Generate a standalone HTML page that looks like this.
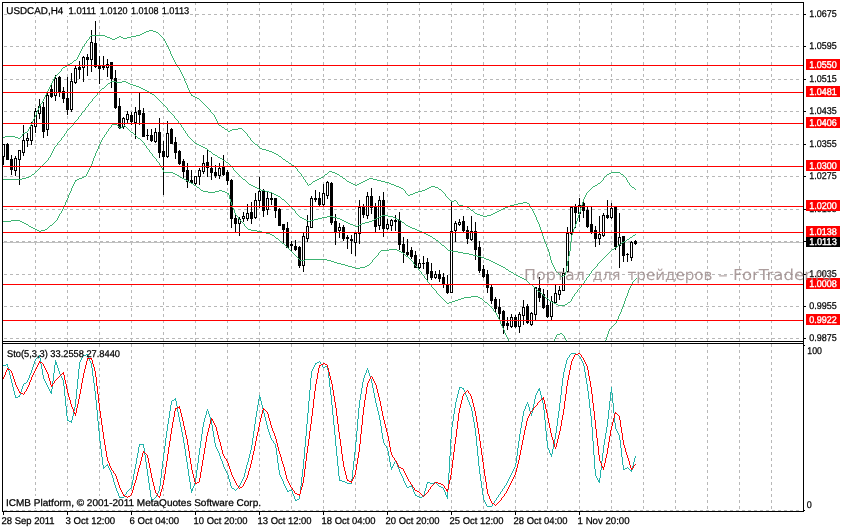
<!DOCTYPE html>
<html lang="ru"><head><meta charset="utf-8"><title>USDCAD,H4</title>
<style>html,body{margin:0;padding:0;background:#fff;overflow:hidden}svg{display:block}text{font-family:"Liberation Sans",sans-serif;font-size:9.8px;text-rendering:geometricPrecision;fill:#000;stroke:#000;stroke-width:.25px}.wm{font-family:"DejaVu Sans","Liberation Sans",sans-serif;font-size:15px;fill:#9a8888;fill-opacity:.82;stroke:none}.w{fill:#fff;stroke:#fff;stroke-width:.4px}</style></head><body>
<svg width="841" height="528" viewBox="0 0 841 528">
<rect width="841" height="528" fill="#fff"/>
<g stroke="#b8b8b8" stroke-width="1" stroke-dasharray="3 3" shape-rendering="crispEdges" fill="none">
<line x1="4" y1="14.5" x2="801" y2="14.5"/>
<line x1="4" y1="46.5" x2="801" y2="46.5"/>
<line x1="4" y1="79.5" x2="801" y2="79.5"/>
<line x1="4" y1="111.5" x2="801" y2="111.5"/>
<line x1="4" y1="144.5" x2="801" y2="144.5"/>
<line x1="4" y1="176.5" x2="801" y2="176.5"/>
<line x1="4" y1="209.5" x2="801" y2="209.5"/>
<line x1="4" y1="241.5" x2="801" y2="241.5"/>
<line x1="4" y1="274.5" x2="801" y2="274.5"/>
<line x1="4" y1="306.5" x2="801" y2="306.5"/>
<line x1="4" y1="338.5" x2="801" y2="338.5"/>
<line x1="4" y1="510.5" x2="801" y2="510.5"/>
<line x1="35.5" y1="2" x2="35.5" y2="511"/>
<line x1="67.5" y1="2" x2="67.5" y2="511"/>
<line x1="99.5" y1="2" x2="99.5" y2="511"/>
<line x1="131.5" y1="2" x2="131.5" y2="511"/>
<line x1="163.5" y1="2" x2="163.5" y2="511"/>
<line x1="195.5" y1="2" x2="195.5" y2="511"/>
<line x1="227.5" y1="2" x2="227.5" y2="511"/>
<line x1="259.5" y1="2" x2="259.5" y2="511"/>
<line x1="291.5" y1="2" x2="291.5" y2="511"/>
<line x1="323.5" y1="2" x2="323.5" y2="511"/>
<line x1="355.5" y1="2" x2="355.5" y2="511"/>
<line x1="387.5" y1="2" x2="387.5" y2="511"/>
<line x1="419.5" y1="2" x2="419.5" y2="511"/>
<line x1="451.5" y1="2" x2="451.5" y2="511"/>
<line x1="483.5" y1="2" x2="483.5" y2="511"/>
<line x1="515.5" y1="2" x2="515.5" y2="511"/>
<line x1="547.5" y1="2" x2="547.5" y2="511"/>
<line x1="579.5" y1="2" x2="579.5" y2="511"/>
<line x1="611.5" y1="2" x2="611.5" y2="511"/>
<line x1="643.5" y1="2" x2="643.5" y2="511"/>
<line x1="675.5" y1="2" x2="675.5" y2="511"/>
<line x1="707.5" y1="2" x2="707.5" y2="511"/>
<line x1="739.5" y1="2" x2="739.5" y2="511"/>
<line x1="771.5" y1="2" x2="771.5" y2="511"/>
<line x1="803.5" y1="2" x2="803.5" y2="511"/>
</g>
<rect x="7" y="4" width="183" height="12" fill="#fff"/>
<rect x="7" y="347" width="113" height="12" fill="#fff"/>
<rect x="5" y="496" width="256" height="12" fill="#fff"/>
<line x1="3" y1="242.5" x2="803" y2="242.5" stroke="#c0c0c0" shape-rendering="crispEdges"/>
<g shape-rendering="crispEdges">
<g stroke="#000" stroke-width="1">
<line x1="3.5" y1="144" x2="3.5" y2="165"/>
<rect x="2.5" y="144.5" width="2" height="12" fill="#fff"/>
<line x1="7.5" y1="143" x2="7.5" y2="160"/>
<rect x="6.5" y="144.5" width="2" height="15" fill="#000"/>
<line x1="11.5" y1="155" x2="11.5" y2="175"/>
<rect x="10.5" y="159.5" width="2" height="10" fill="#000"/>
<line x1="15.5" y1="156" x2="15.5" y2="176"/>
<rect x="14.5" y="158.5" width="2" height="12" fill="#fff"/>
<line x1="19.5" y1="150" x2="19.5" y2="185"/>
<rect x="18.5" y="150.5" width="2" height="9" fill="#fff"/>
<line x1="23.5" y1="125" x2="23.5" y2="156"/>
<rect x="22.5" y="140.5" width="2" height="12" fill="#fff"/>
<line x1="27.5" y1="133" x2="27.5" y2="147"/>
<rect x="26.5" y="138.5" width="2" height="2" fill="#fff"/>
<line x1="31.5" y1="122" x2="31.5" y2="145"/>
<rect x="30.5" y="125.5" width="2" height="15" fill="#fff"/>
<line x1="35.5" y1="108" x2="35.5" y2="133"/>
<rect x="34.5" y="111.5" width="2" height="15" fill="#fff"/>
<line x1="39.5" y1="99" x2="39.5" y2="119"/>
<rect x="38.5" y="106.5" width="2" height="7" fill="#fff"/>
<line x1="43.5" y1="102" x2="43.5" y2="138"/>
<rect x="42.5" y="107.5" width="2" height="24" fill="#000"/>
<line x1="47.5" y1="93" x2="47.5" y2="136"/>
<rect x="46.5" y="95.5" width="2" height="34" fill="#fff"/>
<line x1="51.5" y1="85" x2="51.5" y2="98"/>
<rect x="50.5" y="89.5" width="2" height="7" fill="#000"/>
<line x1="55.5" y1="75" x2="55.5" y2="101"/>
<rect x="54.5" y="78.5" width="2" height="17" fill="#fff"/>
<line x1="59.5" y1="76" x2="59.5" y2="97"/>
<rect x="58.5" y="77.5" width="2" height="15" fill="#000"/>
<line x1="63.5" y1="87" x2="63.5" y2="103"/>
<rect x="62.5" y="91.5" width="2" height="7" fill="#000"/>
<line x1="67.5" y1="77" x2="67.5" y2="115"/>
<rect x="66.5" y="98.5" width="2" height="11" fill="#000"/>
<line x1="71.5" y1="73" x2="71.5" y2="112"/>
<rect x="70.5" y="81.5" width="2" height="28" fill="#fff"/>
<line x1="75.5" y1="66" x2="75.5" y2="84"/>
<rect x="74.5" y="68.5" width="2" height="14" fill="#fff"/>
<line x1="79.5" y1="61" x2="79.5" y2="79"/>
<rect x="78.5" y="67.5" width="2" height="2" fill="#000"/>
<line x1="83.5" y1="56" x2="83.5" y2="82"/>
<rect x="82.5" y="57.5" width="2" height="10" fill="#fff"/>
<line x1="87.5" y1="54" x2="87.5" y2="76"/>
<rect x="86.5" y="57.5" width="2" height="2" fill="#000"/>
<line x1="91.5" y1="30" x2="91.5" y2="72"/>
<rect x="90.5" y="42.5" width="2" height="17" fill="#fff"/>
<line x1="95.5" y1="21" x2="95.5" y2="68"/>
<rect x="94.5" y="43.5" width="2" height="23" fill="#000"/>
<line x1="99.5" y1="56" x2="99.5" y2="84"/>
<rect x="98.5" y="66.5" width="2" height="2" fill="#000"/>
<line x1="103.5" y1="56" x2="103.5" y2="70"/>
<rect x="102.5" y="65.5" width="2" height="2" fill="#000"/>
<line x1="107.5" y1="59" x2="107.5" y2="77"/>
<rect x="106.5" y="64.5" width="2" height="3" fill="#fff"/>
<line x1="111.5" y1="62" x2="111.5" y2="88"/>
<rect x="110.5" y="62.5" width="2" height="16" fill="#000"/>
<line x1="115.5" y1="70" x2="115.5" y2="109"/>
<rect x="114.5" y="78.5" width="2" height="29" fill="#000"/>
<line x1="119.5" y1="98" x2="119.5" y2="129"/>
<rect x="118.5" y="106.5" width="2" height="21" fill="#000"/>
<line x1="123.5" y1="117" x2="123.5" y2="129"/>
<rect x="122.5" y="118.5" width="2" height="8" fill="#fff"/>
<line x1="127.5" y1="111" x2="127.5" y2="124"/>
<rect x="126.5" y="114.5" width="2" height="5" fill="#fff"/>
<line x1="131.5" y1="112" x2="131.5" y2="125"/>
<rect x="130.5" y="115.5" width="2" height="6" fill="#000"/>
<line x1="135.5" y1="107" x2="135.5" y2="139"/>
<rect x="134.5" y="112.5" width="2" height="10" fill="#fff"/>
<line x1="139.5" y1="93" x2="139.5" y2="125"/>
<rect x="138.5" y="110.5" width="2" height="4" fill="#000"/>
<line x1="143.5" y1="108" x2="143.5" y2="137"/>
<rect x="142.5" y="113.5" width="2" height="23" fill="#000"/>
<line x1="147.5" y1="129" x2="147.5" y2="140"/>
<line x1="146" y1="135.5" x2="149" y2="135.5"/>
<line x1="151.5" y1="129" x2="151.5" y2="142"/>
<rect x="150.5" y="135.5" width="2" height="5" fill="#000"/>
<line x1="155.5" y1="128" x2="155.5" y2="143"/>
<rect x="154.5" y="132.5" width="2" height="9" fill="#fff"/>
<line x1="159.5" y1="118" x2="159.5" y2="158"/>
<rect x="158.5" y="132.5" width="2" height="20" fill="#000"/>
<line x1="163.5" y1="141" x2="163.5" y2="195"/>
<rect x="162.5" y="151.5" width="2" height="5" fill="#000"/>
<line x1="167.5" y1="121" x2="167.5" y2="158"/>
<rect x="166.5" y="133.5" width="2" height="23" fill="#fff"/>
<line x1="171.5" y1="128" x2="171.5" y2="144"/>
<rect x="170.5" y="129.5" width="2" height="14" fill="#000"/>
<line x1="175.5" y1="137" x2="175.5" y2="159"/>
<rect x="174.5" y="142.5" width="2" height="10" fill="#000"/>
<line x1="179.5" y1="150" x2="179.5" y2="165"/>
<rect x="178.5" y="151.5" width="2" height="12" fill="#000"/>
<line x1="183.5" y1="159" x2="183.5" y2="179"/>
<rect x="182.5" y="161.5" width="2" height="10" fill="#000"/>
<line x1="187.5" y1="163" x2="187.5" y2="188"/>
<rect x="186.5" y="170.5" width="2" height="11" fill="#000"/>
<line x1="191.5" y1="170" x2="191.5" y2="184"/>
<rect x="190.5" y="180.5" width="2" height="2" fill="#000"/>
<line x1="195.5" y1="176" x2="195.5" y2="186"/>
<rect x="194.5" y="176.5" width="2" height="7" fill="#fff"/>
<line x1="199.5" y1="168" x2="199.5" y2="185"/>
<rect x="198.5" y="170.5" width="2" height="6" fill="#fff"/>
<line x1="203.5" y1="155" x2="203.5" y2="174"/>
<rect x="202.5" y="163.5" width="2" height="8" fill="#fff"/>
<line x1="207.5" y1="150" x2="207.5" y2="177"/>
<rect x="206.5" y="162.5" width="2" height="5" fill="#000"/>
<line x1="211.5" y1="157" x2="211.5" y2="180"/>
<rect x="210.5" y="168.5" width="2" height="4" fill="#000"/>
<line x1="215.5" y1="165" x2="215.5" y2="178"/>
<rect x="214.5" y="172.5" width="2" height="3" fill="#000"/>
<line x1="219.5" y1="163" x2="219.5" y2="179"/>
<rect x="218.5" y="168.5" width="2" height="7" fill="#fff"/>
<line x1="223.5" y1="155" x2="223.5" y2="176"/>
<rect x="222.5" y="167.5" width="2" height="7" fill="#000"/>
<line x1="227.5" y1="170" x2="227.5" y2="185"/>
<rect x="226.5" y="172.5" width="2" height="8" fill="#000"/>
<line x1="231.5" y1="179" x2="231.5" y2="228"/>
<rect x="230.5" y="180.5" width="2" height="38" fill="#000"/>
<line x1="235.5" y1="214" x2="235.5" y2="232"/>
<rect x="234.5" y="218.5" width="2" height="5" fill="#000"/>
<line x1="239.5" y1="217" x2="239.5" y2="236"/>
<rect x="238.5" y="219.5" width="2" height="4" fill="#fff"/>
<line x1="243.5" y1="212" x2="243.5" y2="222"/>
<rect x="242.5" y="216.5" width="2" height="2" fill="#fff"/>
<line x1="247.5" y1="204" x2="247.5" y2="221"/>
<rect x="246.5" y="213.5" width="2" height="5" fill="#fff"/>
<line x1="251.5" y1="202" x2="251.5" y2="224"/>
<rect x="250.5" y="212.5" width="2" height="6" fill="#000"/>
<line x1="255.5" y1="193" x2="255.5" y2="219"/>
<rect x="254.5" y="200.5" width="2" height="17" fill="#fff"/>
<line x1="259.5" y1="177" x2="259.5" y2="208"/>
<rect x="258.5" y="191.5" width="2" height="9" fill="#fff"/>
<line x1="263.5" y1="189" x2="263.5" y2="217"/>
<rect x="262.5" y="190.5" width="2" height="20" fill="#000"/>
<line x1="267.5" y1="192" x2="267.5" y2="215"/>
<rect x="266.5" y="198.5" width="2" height="11" fill="#fff"/>
<line x1="271.5" y1="193" x2="271.5" y2="205"/>
<rect x="270.5" y="198.5" width="2" height="1" fill="#000"/>
<line x1="275.5" y1="198" x2="275.5" y2="218"/>
<rect x="274.5" y="198.5" width="2" height="12" fill="#000"/>
<line x1="279.5" y1="208" x2="279.5" y2="226"/>
<rect x="278.5" y="209.5" width="2" height="16" fill="#000"/>
<line x1="283.5" y1="224" x2="283.5" y2="244"/>
<rect x="282.5" y="224.5" width="2" height="5" fill="#000"/>
<line x1="287.5" y1="222" x2="287.5" y2="248"/>
<rect x="286.5" y="228.5" width="2" height="19" fill="#000"/>
<line x1="291.5" y1="241" x2="291.5" y2="252"/>
<rect x="290.5" y="244.5" width="2" height="1" fill="#000"/>
<line x1="295.5" y1="240" x2="295.5" y2="251"/>
<rect x="294.5" y="246.5" width="2" height="3" fill="#000"/>
<line x1="299.5" y1="246" x2="299.5" y2="268"/>
<rect x="298.5" y="247.5" width="2" height="18" fill="#000"/>
<line x1="303.5" y1="233" x2="303.5" y2="272"/>
<rect x="302.5" y="236.5" width="2" height="29" fill="#fff"/>
<line x1="307.5" y1="215" x2="307.5" y2="242"/>
<rect x="306.5" y="226.5" width="2" height="12" fill="#fff"/>
<line x1="311.5" y1="196" x2="311.5" y2="228"/>
<rect x="310.5" y="198.5" width="2" height="29" fill="#fff"/>
<line x1="315.5" y1="190" x2="315.5" y2="202"/>
<rect x="314.5" y="198.5" width="2" height="1" fill="#000"/>
<line x1="319.5" y1="192" x2="319.5" y2="206"/>
<rect x="318.5" y="198.5" width="2" height="6" fill="#000"/>
<line x1="323.5" y1="184" x2="323.5" y2="206"/>
<rect x="322.5" y="193.5" width="2" height="11" fill="#fff"/>
<line x1="327.5" y1="181" x2="327.5" y2="199"/>
<rect x="326.5" y="182.5" width="2" height="13" fill="#fff"/>
<line x1="331.5" y1="182" x2="331.5" y2="225"/>
<rect x="330.5" y="183.5" width="2" height="39" fill="#000"/>
<line x1="335.5" y1="214" x2="335.5" y2="245"/>
<rect x="334.5" y="221.5" width="2" height="10" fill="#000"/>
<line x1="339.5" y1="223" x2="339.5" y2="238"/>
<rect x="338.5" y="227.5" width="2" height="3" fill="#fff"/>
<line x1="343.5" y1="225" x2="343.5" y2="241"/>
<rect x="342.5" y="227.5" width="2" height="11" fill="#000"/>
<line x1="347.5" y1="235" x2="347.5" y2="249"/>
<rect x="346.5" y="237.5" width="2" height="1" fill="#000"/>
<line x1="351.5" y1="235" x2="351.5" y2="254"/>
<rect x="350.5" y="239.5" width="2" height="1" fill="#000"/>
<line x1="355.5" y1="232" x2="355.5" y2="256"/>
<rect x="354.5" y="233.5" width="2" height="9" fill="#fff"/>
<line x1="359.5" y1="200" x2="359.5" y2="244"/>
<rect x="358.5" y="207.5" width="2" height="26" fill="#fff"/>
<line x1="363.5" y1="204" x2="363.5" y2="218"/>
<rect x="362.5" y="206.5" width="2" height="8" fill="#000"/>
<line x1="367.5" y1="192" x2="367.5" y2="219"/>
<rect x="366.5" y="196.5" width="2" height="19" fill="#fff"/>
<line x1="371.5" y1="188" x2="371.5" y2="214"/>
<rect x="370.5" y="196.5" width="2" height="11" fill="#000"/>
<line x1="375.5" y1="203" x2="375.5" y2="233"/>
<rect x="374.5" y="206.5" width="2" height="20" fill="#000"/>
<line x1="379.5" y1="196" x2="379.5" y2="230"/>
<rect x="378.5" y="200.5" width="2" height="25" fill="#fff"/>
<line x1="383.5" y1="192" x2="383.5" y2="237"/>
<rect x="382.5" y="200.5" width="2" height="28" fill="#000"/>
<line x1="387.5" y1="219" x2="387.5" y2="230"/>
<rect x="386.5" y="224.5" width="2" height="4" fill="#fff"/>
<line x1="391.5" y1="219" x2="391.5" y2="231"/>
<rect x="390.5" y="220.5" width="2" height="5" fill="#fff"/>
<line x1="395.5" y1="215" x2="395.5" y2="231"/>
<rect x="394.5" y="220.5" width="2" height="1" fill="#000"/>
<line x1="399.5" y1="212" x2="399.5" y2="250"/>
<rect x="398.5" y="220.5" width="2" height="24" fill="#000"/>
<line x1="403.5" y1="237" x2="403.5" y2="263"/>
<rect x="402.5" y="244.5" width="2" height="8" fill="#000"/>
<line x1="407.5" y1="239" x2="407.5" y2="256"/>
<rect x="406.5" y="252.5" width="2" height="2" fill="#000"/>
<line x1="411.5" y1="247" x2="411.5" y2="259"/>
<rect x="410.5" y="250.5" width="2" height="6" fill="#000"/>
<line x1="415.5" y1="251" x2="415.5" y2="268"/>
<rect x="414.5" y="255.5" width="2" height="12" fill="#000"/>
<line x1="419.5" y1="259" x2="419.5" y2="269"/>
<rect x="418.5" y="263.5" width="2" height="4" fill="#fff"/>
<line x1="423.5" y1="256" x2="423.5" y2="269"/>
<line x1="422" y1="263.5" x2="425" y2="263.5"/>
<line x1="427.5" y1="258" x2="427.5" y2="281"/>
<rect x="426.5" y="262.5" width="2" height="11" fill="#000"/>
<line x1="431.5" y1="263" x2="431.5" y2="280"/>
<rect x="430.5" y="271.5" width="2" height="6" fill="#000"/>
<line x1="435.5" y1="271" x2="435.5" y2="279"/>
<rect x="434.5" y="274.5" width="2" height="3" fill="#fff"/>
<line x1="439.5" y1="270" x2="439.5" y2="282"/>
<rect x="438.5" y="274.5" width="2" height="4" fill="#000"/>
<line x1="443.5" y1="273" x2="443.5" y2="288"/>
<rect x="442.5" y="277.5" width="2" height="7" fill="#000"/>
<line x1="447.5" y1="275" x2="447.5" y2="294"/>
<rect x="446.5" y="284.5" width="2" height="8" fill="#000"/>
<line x1="451.5" y1="201" x2="451.5" y2="293"/>
<rect x="450.5" y="231.5" width="2" height="61" fill="#fff"/>
<line x1="455.5" y1="221" x2="455.5" y2="242"/>
<rect x="454.5" y="223.5" width="2" height="7" fill="#fff"/>
<line x1="459.5" y1="219" x2="459.5" y2="226"/>
<rect x="458.5" y="222.5" width="2" height="2" fill="#fff"/>
<line x1="463.5" y1="216" x2="463.5" y2="232"/>
<rect x="462.5" y="221.5" width="2" height="9" fill="#000"/>
<line x1="467.5" y1="226" x2="467.5" y2="244"/>
<rect x="466.5" y="230.5" width="2" height="8" fill="#000"/>
<line x1="471.5" y1="216" x2="471.5" y2="241"/>
<rect x="470.5" y="231.5" width="2" height="8" fill="#fff"/>
<line x1="475.5" y1="222" x2="475.5" y2="260"/>
<rect x="474.5" y="231.5" width="2" height="18" fill="#000"/>
<line x1="479.5" y1="241" x2="479.5" y2="273"/>
<rect x="478.5" y="247.5" width="2" height="23" fill="#000"/>
<line x1="483.5" y1="265" x2="483.5" y2="278"/>
<rect x="482.5" y="269.5" width="2" height="7" fill="#000"/>
<line x1="487.5" y1="270" x2="487.5" y2="293"/>
<rect x="486.5" y="274.5" width="2" height="13" fill="#000"/>
<line x1="491.5" y1="285" x2="491.5" y2="304"/>
<rect x="490.5" y="287.5" width="2" height="13" fill="#000"/>
<line x1="495.5" y1="297" x2="495.5" y2="313"/>
<rect x="494.5" y="299.5" width="2" height="9" fill="#000"/>
<line x1="499.5" y1="299" x2="499.5" y2="321"/>
<rect x="498.5" y="307.5" width="2" height="6" fill="#000"/>
<line x1="503.5" y1="310" x2="503.5" y2="334"/>
<rect x="502.5" y="311.5" width="2" height="14" fill="#000"/>
<line x1="507.5" y1="317" x2="507.5" y2="330"/>
<rect x="506.5" y="323.5" width="2" height="2" fill="#000"/>
<line x1="511.5" y1="314" x2="511.5" y2="328"/>
<rect x="510.5" y="317.5" width="2" height="9" fill="#fff"/>
<line x1="515.5" y1="315" x2="515.5" y2="328"/>
<rect x="514.5" y="317.5" width="2" height="9" fill="#000"/>
<line x1="519.5" y1="312" x2="519.5" y2="333"/>
<rect x="518.5" y="314.5" width="2" height="12" fill="#fff"/>
<line x1="523.5" y1="300" x2="523.5" y2="325"/>
<rect x="522.5" y="307.5" width="2" height="8" fill="#fff"/>
<line x1="527.5" y1="304" x2="527.5" y2="324"/>
<rect x="526.5" y="306.5" width="2" height="16" fill="#000"/>
<line x1="531.5" y1="312" x2="531.5" y2="326"/>
<rect x="530.5" y="313.5" width="2" height="11" fill="#fff"/>
<line x1="535.5" y1="287" x2="535.5" y2="321"/>
<rect x="534.5" y="287.5" width="2" height="27" fill="#fff"/>
<line x1="539.5" y1="277" x2="539.5" y2="302"/>
<rect x="538.5" y="288.5" width="2" height="9" fill="#000"/>
<line x1="543.5" y1="289" x2="543.5" y2="309"/>
<rect x="542.5" y="294.5" width="2" height="13" fill="#000"/>
<line x1="547.5" y1="290" x2="547.5" y2="318"/>
<rect x="546.5" y="305.5" width="2" height="11" fill="#000"/>
<line x1="551.5" y1="296" x2="551.5" y2="321"/>
<rect x="550.5" y="301.5" width="2" height="15" fill="#fff"/>
<line x1="555.5" y1="285" x2="555.5" y2="304"/>
<rect x="554.5" y="293.5" width="2" height="9" fill="#fff"/>
<line x1="559.5" y1="286" x2="559.5" y2="300"/>
<rect x="558.5" y="290.5" width="2" height="4" fill="#fff"/>
<line x1="563.5" y1="268" x2="563.5" y2="291"/>
<rect x="562.5" y="273.5" width="2" height="17" fill="#fff"/>
<line x1="567.5" y1="227" x2="567.5" y2="273"/>
<rect x="566.5" y="233.5" width="2" height="38" fill="#fff"/>
<line x1="571.5" y1="207" x2="571.5" y2="237"/>
<rect x="570.5" y="207.5" width="2" height="26" fill="#fff"/>
<line x1="575.5" y1="204" x2="575.5" y2="228"/>
<rect x="574.5" y="207.5" width="2" height="5" fill="#000"/>
<line x1="579.5" y1="198" x2="579.5" y2="222"/>
<rect x="578.5" y="205.5" width="2" height="8" fill="#fff"/>
<line x1="583.5" y1="199" x2="583.5" y2="218"/>
<rect x="582.5" y="203.5" width="2" height="7" fill="#000"/>
<line x1="587.5" y1="207" x2="587.5" y2="228"/>
<rect x="586.5" y="210.5" width="2" height="16" fill="#000"/>
<line x1="591.5" y1="207" x2="591.5" y2="234"/>
<rect x="590.5" y="224.5" width="2" height="7" fill="#000"/>
<line x1="595.5" y1="226" x2="595.5" y2="247"/>
<rect x="594.5" y="230.5" width="2" height="8" fill="#000"/>
<line x1="599.5" y1="216" x2="599.5" y2="245"/>
<rect x="598.5" y="234.5" width="2" height="4" fill="#fff"/>
<line x1="603.5" y1="213" x2="603.5" y2="237"/>
<rect x="602.5" y="215.5" width="2" height="20" fill="#fff"/>
<line x1="607.5" y1="200" x2="607.5" y2="219"/>
<rect x="606.5" y="215.5" width="2" height="2" fill="#000"/>
<line x1="611.5" y1="203" x2="611.5" y2="219"/>
<rect x="610.5" y="208.5" width="2" height="9" fill="#fff"/>
<line x1="615.5" y1="207" x2="615.5" y2="250"/>
<rect x="614.5" y="207.5" width="2" height="39" fill="#000"/>
<line x1="619.5" y1="213" x2="619.5" y2="268"/>
<rect x="618.5" y="237.5" width="2" height="8" fill="#fff"/>
<line x1="623.5" y1="236" x2="623.5" y2="262"/>
<rect x="622.5" y="236.5" width="2" height="19" fill="#000"/>
<line x1="627.5" y1="253" x2="627.5" y2="262"/>
<line x1="626" y1="254.5" x2="629" y2="254.5"/>
<line x1="631.5" y1="241" x2="631.5" y2="261"/>
<rect x="630.5" y="242.5" width="2" height="15" fill="#fff"/>
<line x1="635.5" y1="240" x2="635.5" y2="245"/>
<rect x="634.5" y="241.5" width="2" height="2" fill="#000"/>
</g>
<path d="M303.5 177v2M173.5 58v2M35.5 115v2M533.5 211v2M82.5 47v2M544.5 239v3M534.5 213v2M187.5 85v3M188.5 88v2M530.5 206v2M570.5 242v9M457.5 202v2M583.5 199v3M540.5 227v3M626.5 178v2M548.5 249v3M629.5 183v2M50.5 85v2M179.5 68v2M250.5 138v2M566.5 266v6M180.5 70v2M30.5 125v2M582.5 202v3M529.5 204v2M172.5 56v2M190.5 92v2M532.5 209v2M46.5 93v2M22.5 134v2M81.5 49v2M54.5 77v2M569.5 251v5M305.5 180v2M550.5 256v4M37.5 110v2M77.5 57v2M543.5 236v3M565.5 272v3M169.5 49v2M34.5 117v2M49.5 87v2M586.5 193v2M539.5 224v3M578.5 215v3M301.5 174v2M45.5 95v2M535.5 215v2M80.5 51v2M577.5 218v3M568.5 256v5M168.5 47v2M29.5 127v2M186.5 83v2M445.5 194v2M581.5 205v3M627.5 180v2M44.5 97v2M549.5 252v4M61.5 69v2M40.5 104v2M171.5 54v2M53.5 79v2M33.5 119v2M542.5 233v3M573.5 229v3M36.5 112v3M185.5 81v2M84.5 44v2M546.5 244v3M210.5 110v2M218.5 123v2M307.5 183v2M48.5 89v2M28.5 129v2M170.5 51v3M567.5 261v5M585.5 195v2M576.5 221v3M164.5 39v2M297.5 169v2M580.5 208v4M52.5 81v2M538.5 222v2M551.5 260v3M571.5 235v7M43.5 99v2M575.5 224v3M167.5 45v2M39.5 106v2M405.5 191v2M184.5 78v3M32.5 121v2M572.5 232v3M79.5 53v2M47.5 91v2M217.5 121v2M537.5 220v2M214.5 115v2M579.5 212v3M541.5 230v3M166.5 43v2M547.5 247v2M555.5 269v2M603.5 178v2M181.5 72v2M86.5 41v2M191.5 94v2M89.5 37v2M51.5 83v2M78.5 55v2M165.5 41v2M574.5 227v2M554.5 267v2M216.5 119v2M247.5 134v2M42.5 101v2M536.5 217v3M38.5 108v2M183.5 76v2M215.5 117v2M553.5 265v2M182.5 74v2M175.5 62v2M189.5 90v2M552.5 263v2M545.5 242v2M584.5 197v2M174.5 60v2M177.5 65v2M31.5 123v2M221 126.5h1M319 178.5h2M343 178.5h2M369 178.5h4M315 180.5h2M346 180.5h1M365 180.5h2M377 180.5h4M602 180.5h1M408 195.5h2M325 174.5h2M337 174.5h2M607 174.5h2M621 174.5h2M518 203.5h5M527 203.5h2M3 137.5h2M15 137.5h3M20 137.5h1M249 137.5h1M459 205.5h4M510 205.5h4M304 179.5h1M317 179.5h2M345 179.5h1M367 179.5h2M373 179.5h4M415 192.5h3M443 192.5h1M587 192.5h1M110 38.5h2M115 38.5h2M123 38.5h4M163 38.5h1M142 33.5h2M158 33.5h1M298 171.5h1M329 171.5h3M418 191.5h4M442 191.5h1M588 191.5h1M90 36.5h1M105 36.5h2M119 36.5h2M131 36.5h5M161 36.5h1M474 212.5h1M495 212.5h2M18 138.5h2M140 34.5h2M159 34.5h1M107 37.5h3M117 37.5h2M121 37.5h2M127 37.5h4M162 37.5h1M321 177.5h2M342 177.5h1M604 177.5h1M625 177.5h1M309 184.5h2M353 184.5h2M357 184.5h2M391 184.5h3M597 184.5h1M449 199.5h1M260 148.5h2M283 159.5h2M146 31.5h3M153 31.5h3M227 130.5h1M230 130.5h2M243 130.5h1M88 39.5h1M112 39.5h3M458 204.5h1M514 204.5h4M302 176.5h1M323 176.5h1M340 176.5h2M605 176.5h1M624 176.5h1M450 200.5h1M454 200.5h2M5 136.5h10M21 136.5h1M248 136.5h1M68 64.5h2M176 64.5h1M396 186.5h3M431 186.5h4M593 186.5h2M631 186.5h1M311 183.5h1M351 183.5h2M359 183.5h2M389 183.5h2M598 183.5h2M306 182.5h1M312 182.5h1M349 182.5h2M361 182.5h2M385 182.5h4M600 182.5h1M628 182.5h1M467 207.5h2M505 207.5h3M451 201.5h3M456 201.5h1M85 43.5h1M269 151.5h3M483 216.5h4M299 172.5h1M328 172.5h1M332 172.5h3M611 172.5h9M224 128.5h1M238 128.5h4M91 35.5h14M136 35.5h4M160 35.5h1M65 66.5h2M313 181.5h2M347 181.5h2M363 181.5h2M381 181.5h4M601 181.5h1M70 63.5h2M300 173.5h1M327 173.5h1M335 173.5h2M609 173.5h2M620 173.5h1M202 102.5h1M477 214.5h3M491 214.5h2M262 149.5h4M471 210.5h2M499 210.5h2M463 206.5h4M508 206.5h2M25 132.5h2M245 132.5h1M266 150.5h3M401 188.5h2M427 188.5h2M438 188.5h1M591 188.5h1M634 188.5h1M523 202.5h4M470 209.5h1M501 209.5h2M404 190.5h1M422 190.5h3M441 190.5h1M589 190.5h1M62 68.5h1M407 194.5h1M410 194.5h3M257 145.5h1M74 60.5h2M201 101.5h1M279 156.5h2M272 152.5h2M225 129.5h2M232 129.5h6M242 129.5h1M57 74.5h1M274 153.5h2M294 166.5h1M276 154.5h2M208 108.5h1M197 98.5h2M209 109.5h1M324 175.5h1M339 175.5h1M606 175.5h1M623 175.5h1M473 211.5h1M497 211.5h2M222 127.5h2M253 142.5h1M475 213.5h2M493 213.5h2M193 96.5h2M403 189.5h1M425 189.5h2M439 189.5h2M590 189.5h1M635 189.5h1M63 67.5h2M178 67.5h1M308 185.5h1M355 185.5h2M394 185.5h2M595 185.5h2M630 185.5h1M76 59.5h1M399 187.5h2M429 187.5h2M435 187.5h3M592 187.5h1M632 187.5h2M252 141.5h1M195 97.5h2M286 161.5h2M149 30.5h4M469 208.5h1M503 208.5h2M531 208.5h1M289 163.5h2M480 215.5h3M487 215.5h4M559 274.5h1M211 112.5h1M219 125.5h2M560 275.5h1M563 275.5h2M23 133.5h2M246 133.5h1M144 32.5h2M156 32.5h2M406 193.5h1M413 193.5h2M444 193.5h1M281 157.5h1M56 75.5h1M282 158.5h1M41 103.5h1M203 103.5h1M27 131.5h1M228 131.5h2M244 131.5h1M87 40.5h1M59 72.5h1M258 146.5h1M259 147.5h1M295 167.5h1M296 168.5h1M83 46.5h1M561 276.5h2M254 143.5h1M291 164.5h1M446 196.5h1M292 165.5h2M67 65.5h1M213 114.5h1M205 105.5h1M212 113.5h1M58 73.5h1M73 61.5h1M204 104.5h1M557 272.5h1M448 198.5h1M556 271.5h1M278 155.5h1M255 144.5h2M60 71.5h1M447 197.5h1M199 99.5h1M200 100.5h1M206 106.5h1M207 107.5h1M72 62.5h1M55 76.5h1M288 162.5h1M192 95.5h1M285 160.5h1M558 273.5h1M251 140.5h1" fill="none" stroke="#3cb371" stroke-width="1" shape-rendering="crispEdges"/>
<path d="M88.5 104v2M572.5 297v2M178.5 121v2M167.5 108v2M571.5 299v2M233.5 168v2M54.5 147v2M66.5 131v2M591.5 271v2M181.5 125v2M50.5 155v2M586.5 278v2M78.5 117v2M73.5 123v2M589.5 274v2M81.5 113v2M574.5 294v2M577.5 290v2M97.5 93v2M57.5 143v2M597.5 264v2M53.5 149v2M92.5 99v2M183.5 128v2M61.5 138v2M52.5 151v2M64.5 134v2M48.5 158v2M581.5 285v2M584.5 281v2M185.5 131v2M51.5 153v2M174.5 116v2M295.5 211v2M187.5 134v2M85.5 108v2M96 95.5h1M154 95.5h1M549 300.5h1M447 249.5h1M612 249.5h2M304 219.5h2M314 219.5h4M340 219.5h2M374 219.5h2M397 219.5h2M415 229.5h2M150 93.5h2M353 225.5h2M358 225.5h2M406 225.5h2M90 102.5h1M161 102.5h1M106 85.5h1M133 85.5h3M190 138.5h1M430 236.5h2M632 236.5h1M22 178.5h4M242 178.5h1M550 301.5h2M570 301.5h1M438 241.5h1M624 241.5h2M212 153.5h1M41 166.5h1M231 166.5h1M355 226.5h3M408 226.5h2M37 170.5h1M234 170.5h1M100 90.5h1M145 90.5h2M261 190.5h4M3 179.5h19M243 179.5h2M410 227.5h2M60 140.5h1M192 140.5h1M299 216.5h1M327 216.5h6M380 216.5h2M388 216.5h5M433 238.5h2M629 238.5h1M452 251.5h6M610 251.5h1M32 174.5h2M238 174.5h1M426 234.5h2M635 234.5h1M445 247.5h1M615 247.5h2M491 261.5h2M600 261.5h1M463 253.5h6M608 253.5h1M520 277.5h2M587 277.5h1M110 82.5h1M116 82.5h6M126 82.5h2M76 120.5h1M177 120.5h1M558 305.5h7M282 199.5h2M265 191.5h4M522 278.5h2M422 232.5h2M412 228.5h3M208 150.5h1M308 221.5h2M344 221.5h2M369 221.5h3M401 221.5h1M524 279.5h2M516 275.5h2M534 287.5h1M580 287.5h1M42 165.5h1M230 165.5h1M444 246.5h1M617 246.5h1M508 270.5h1M592 270.5h1M44 163.5h1M228 163.5h1M290 206.5h1M300 217.5h2M322 217.5h5M333 217.5h4M378 217.5h2M393 217.5h2M518 276.5h2M588 276.5h1M417 230.5h2M469 254.5h4M607 254.5h1M68 129.5h1M63 136.5h1M188 136.5h1M297 214.5h1M428 235.5h2M633 235.5h2M545 297.5h1M278 196.5h2M473 255.5h4M606 255.5h1M346 222.5h2M365 222.5h4M402 222.5h2M105 86.5h1M136 86.5h3M302 218.5h2M318 218.5h4M337 218.5h3M376 218.5h2M395 218.5h2M197 144.5h2M306 220.5h2M310 220.5h4M342 220.5h2M372 220.5h2M399 220.5h2M546 298.5h2M481 257.5h3M604 257.5h1M529 283.5h1M583 283.5h1M440 243.5h1M621 243.5h1M274 194.5h2M71 126.5h1M350 224.5h3M360 224.5h2M405 224.5h1M441 244.5h1M619 244.5h2M245 180.5h1M84 110.5h1M168 110.5h1M87 106.5h1M165 106.5h1M107 84.5h1M130 84.5h3M477 256.5h4M605 256.5h1M269 192.5h3M458 252.5h5M609 252.5h1M436 240.5h2M626 240.5h1M222 159.5h1M442 245.5h2M618 245.5h1M79 116.5h1M82 112.5h1M170 112.5h1M432 237.5h1M630 237.5h2M203 147.5h2M195 143.5h2M511 272.5h2M439 242.5h1M622 242.5h2M45 162.5h1M226 162.5h2M26 177.5h3M241 177.5h1M348 223.5h2M362 223.5h3M404 223.5h1M95 96.5h1M155 96.5h1M448 250.5h4M611 250.5h1M49 157.5h1M218 157.5h2M506 269.5h2M593 269.5h1M499 265.5h2M56 145.5h1M199 145.5h2M111 81.5h5M122 81.5h4M493 262.5h2M599 262.5h1M435 239.5h1M627 239.5h2M39 168.5h1M530 284.5h2M582 284.5h1M29 176.5h2M240 176.5h1M98 92.5h1M149 92.5h1M505 268.5h1M594 268.5h1M217 156.5h1M285 201.5h1M298 215.5h1M382 215.5h6M108 83.5h2M128 83.5h2M486 259.5h3M602 259.5h1M191 139.5h1M83 111.5h1M169 111.5h1M220 158.5h2M40 167.5h1M232 167.5h1M540 292.5h1M576 292.5h1M255 187.5h2M541 293.5h1M575 293.5h1M213 154.5h2M257 188.5h2M556 304.5h2M565 304.5h2M249 184.5h2M99 91.5h1M147 91.5h2M104 87.5h1M139 87.5h2M259 189.5h2M251 185.5h2M495 263.5h2M598 263.5h1M535 288.5h1M579 288.5h1M284 200.5h1M89 103.5h1M162 103.5h1M70 127.5h1M182 127.5h1M253 186.5h2M101 89.5h1M143 89.5h2M538 291.5h2M62 137.5h1M189 137.5h1M424 233.5h2M291 207.5h1M446 248.5h1M614 248.5h1M292 208.5h1M46 161.5h1M225 161.5h1M419 231.5h3M179 123.5h1M554 303.5h2M567 303.5h1M209 151.5h2M180 124.5h1M536 289.5h1M578 289.5h1M102 88.5h2M141 88.5h2M65 133.5h1M186 133.5h1M34 173.5h1M237 173.5h1M246 181.5h1M36 171.5h1M235 171.5h1M247 182.5h1M280 197.5h1M272 193.5h2M172 114.5h1M205 148.5h2M526 280.5h1M585 280.5h1M513 273.5h1M590 273.5h1M544 296.5h1M573 296.5h1M276 195.5h2M489 260.5h2M601 260.5h1M55 146.5h1M201 146.5h2M509 271.5h2M501 266.5h2M596 266.5h1M91 101.5h1M160 101.5h1M47 160.5h1M223 160.5h2M58 142.5h1M194 142.5h1M94 97.5h1M156 97.5h1M93 98.5h1M157 98.5h1M286 202.5h1M77 119.5h1M176 119.5h1M80 115.5h1M173 115.5h1M164 105.5h1M59 141.5h1M193 141.5h1M287 203.5h1M552 302.5h2M568 302.5h2M72 125.5h1M171 113.5h1M293 209.5h1M542 294.5h1M294 210.5h1M215 155.5h2M503 267.5h2M595 267.5h1M497 264.5h2M163 104.5h1M152 94.5h2M484 258.5h2M603 258.5h1M248 183.5h1M75 121.5h1M281 198.5h1M43 164.5h1M229 164.5h1M537 290.5h1M211 152.5h1M527 281.5h1M35 172.5h1M236 172.5h1M86 107.5h1M166 107.5h1M548 299.5h1M67 130.5h1M184 130.5h1M289 205.5h1M31 175.5h1M239 175.5h1M296 213.5h1M514 274.5h2M158 99.5h1M159 100.5h1M207 149.5h1M288 204.5h1M38 169.5h1M532 285.5h1M533 286.5h1M74 122.5h1M543 295.5h1M69 128.5h1M528 282.5h1M175 118.5h1" fill="none" stroke="#3cb371" stroke-width="1" shape-rendering="crispEdges"/>
<path d="M62.5 209v2M74.5 182v2M86.5 174v2M421.5 272v2M67.5 198v2M144.5 143v2M229.5 195v4M58.5 216v2M91.5 164v2M503.5 328v2M159.5 163v2M436.5 291v2M66.5 200v2M101.5 140v2M500.5 321v3M90.5 166v2M244.5 224v2M424.5 276v2M98.5 146v3M162.5 168v2M502.5 326v2M413.5 262v2M61.5 211v2M73.5 184v2M232.5 205v3M499.5 319v2M65.5 202v3M146.5 146v2M57.5 218v2M93.5 158v3M506.5 335v2M378.5 253v2M89.5 168v2M68.5 195v3M92.5 161v3M97.5 149v2M427.5 280v2M235.5 213v2M228.5 193v2M160.5 165v2M64.5 205v2M498.5 317v2M104.5 135v2M149.5 150v2M72.5 186v2M100.5 142v2M501.5 324v2M99.5 144v2M508.5 339v2M231.5 202v3M505.5 333v2M234.5 210v3M163.5 170v2M493.5 309v2M71.5 188v3M497.5 315v2M230.5 199v3M507.5 337v2M152.5 154v2M504.5 330v3M106.5 132v2M63.5 207v2M238.5 217v2M59.5 214v2M95.5 153v3M70.5 191v2M372.5 260v2M496.5 313v2M418.5 268v2M102.5 138v2M233.5 208v2M431.5 285v2M69.5 193v2M88.5 170v2M108.5 129v2M96.5 151v2M111.5 125v2M156.5 159v2M75.5 180v2M87.5 172v2M94.5 156v2M203 191.5h5M215 191.5h4M222 191.5h3M296 256.5h1M376 256.5h1M406 256.5h2M352 267.5h3M360 267.5h5M417 267.5h1M107 131.5h1M130 131.5h1M3 221.5h8M20 221.5h2M55 221.5h1M241 221.5h1M299 259.5h1M305 259.5h22M373 259.5h1M410 259.5h1M443 299.5h1M458 299.5h3M482 299.5h1M289 249.5h1M389 249.5h8M446 302.5h1M449 302.5h3M485 302.5h2M82 177.5h2M180 177.5h2M155 158.5h1M441 297.5h1M464 297.5h7M478 297.5h2M281 242.5h1M118 126.5h1M123 126.5h1M125 126.5h1M270 234.5h2M112 124.5h5M208 192.5h7M225 192.5h2M282 243.5h2M110 127.5h1M119 127.5h1M121 127.5h2M126 127.5h1M355 268.5h5M341 264.5h4M369 264.5h1M414 264.5h1M300 260.5h5M327 260.5h4M411 260.5h1M440 296.5h1M471 296.5h7M28 225.5h1M50 225.5h2M290 250.5h1M381 250.5h8M397 250.5h2M147 148.5h1M37 230.5h2M41 230.5h4M251 230.5h6M425 278.5h1M292 252.5h1M379 252.5h1M401 252.5h2M22 222.5h2M54 222.5h1M242 222.5h1M164 172.5h9M131 132.5h2M191 183.5h2M77 179.5h2M184 179.5h2M442 298.5h1M461 298.5h3M480 298.5h2M345 265.5h3M367 265.5h2M415 265.5h1M76 180.5h1M186 180.5h2M39 231.5h2M257 231.5h5M158 162.5h1M331 261.5h3M412 261.5h1M188 181.5h1M435 290.5h1M334 262.5h3M371 262.5h1M11 220.5h9M56 220.5h1M240 220.5h1M24 223.5h2M53 223.5h1M243 223.5h1M492 308.5h1M173 173.5h2M337 263.5h4M370 263.5h1M423 275.5h1M117 125.5h1M124 125.5h1M157 161.5h1M262 232.5h4M444 300.5h1M455 300.5h3M483 300.5h1M161 167.5h1M491 307.5h1M79 178.5h3M182 178.5h2M109 128.5h1M120 128.5h1M127 128.5h1M128 129.5h1M138 138.5h2M84 176.5h2M179 176.5h1M201 190.5h2M219 190.5h3M175 174.5h2M434 289.5h1M33 228.5h2M47 228.5h1M247 228.5h1M297 257.5h1M375 257.5h1M408 257.5h1M35 229.5h2M45 229.5h2M248 229.5h3M276 238.5h2M494 311.5h1M287 247.5h1M26 224.5h2M52 224.5h1M29 226.5h2M49 226.5h1M245 226.5h1M266 233.5h4M348 266.5h4M365 266.5h2M416 266.5h1M60 213.5h1M150 152.5h1M294 254.5h1M404 254.5h1M194 185.5h2M445 301.5h1M452 301.5h3M484 301.5h1M189 182.5h2M272 235.5h2M193 184.5h1M426 279.5h1M105 134.5h1M134 134.5h1M437 293.5h1M148 149.5h1M133 133.5h1M295 255.5h1M377 255.5h1M405 255.5h1M103 137.5h1M137 137.5h1M177 175.5h2M293 253.5h1M403 253.5h1M428 282.5h1M151 153.5h1M429 283.5h1M236 215.5h1M291 251.5h1M380 251.5h1M399 251.5h2M237 216.5h1M129 130.5h1M140 139.5h1M141 140.5h1M288 248.5h1M278 239.5h1M31 227.5h2M48 227.5h1M246 227.5h1M197 187.5h2M495 312.5h1M199 188.5h1M135 135.5h1M447 303.5h2M487 303.5h1M136 136.5h1M432 287.5h1M239 219.5h1M488 304.5h1M298 258.5h1M374 258.5h1M409 258.5h1M438 294.5h1M439 295.5h1M285 245.5h1M153 156.5h1M154 157.5h1M284 244.5h1M419 270.5h1M420 271.5h1M143 142.5h1M430 284.5h1M142 141.5h1M227 193.5h1M279 240.5h1M280 241.5h1M490 306.5h1M433 288.5h1M200 189.5h1M274 236.5h1M275 237.5h1M286 246.5h1M422 274.5h1M145 145.5h1M489 305.5h1M196 186.5h1" fill="none" stroke="#3cb371" stroke-width="1" shape-rendering="crispEdges"/>
<path d="M565.5 338v2M555.5 337v2M556.5 335v2M564.5 336v2M554.5 339v2M560 333.5h2M557 334.5h3M562 334.5h1M566 340.5h1M563 335.5h1" fill="none" stroke="#3cb371" stroke-width="1" shape-rendering="crispEdges"/>
<path d="M626.5 296v2M608.5 331v3M607.5 334v3M606.5 337v3M618.5 316v3M625.5 298v3M624.5 301v3M619.5 314v2M632.5 282v2M609.5 329v2M621.5 309v3M628.5 290v3M622.5 307v2M616.5 321v2M629.5 288v2M627.5 293v3M623.5 304v3M617.5 319v2M620.5 312v2M630.5 286v2M631.5 284v2M634 280.5h1M610 328.5h1M605 340.5h1M615 323.5h1M636 278.5h1M614 324.5h1M612 326.5h1M613 325.5h1M635 279.5h1M611 327.5h1M633 281.5h1" fill="none" stroke="#3cb371" stroke-width="1" shape-rendering="crispEdges"/>
</g>
<g stroke="#ff0000" stroke-width="1" shape-rendering="crispEdges">
<line x1="3" y1="65.5" x2="803" y2="65.5"/>
<line x1="3" y1="92.5" x2="803" y2="92.5"/>
<line x1="3" y1="123.5" x2="803" y2="123.5"/>
<line x1="3" y1="166.5" x2="803" y2="166.5"/>
<line x1="3" y1="206.5" x2="803" y2="206.5"/>
<line x1="3" y1="232.5" x2="803" y2="232.5"/>
<line x1="3" y1="284.5" x2="803" y2="284.5"/>
<line x1="3" y1="320.5" x2="803" y2="320.5"/>
</g>
<path d="M426.5 484v4M471.5 407v4M449.5 456v17M477.5 446v10M20.5 392v3M146.5 462v7M589.5 399v9M112.5 475v3M553.5 444v5M558.5 411v7M336.5 446v10M451.5 427v12M611.5 387v6M188.5 469v7M307.5 413v11M389.5 456v6M536.5 393v2M200.5 441v7M455.5 402v6M65.5 396v10M360.5 394v6M222.5 461v3M181.5 427v5M333.5 415v10M602.5 453v8M50.5 391v2M606.5 427v6M134.5 469v5M194.5 483v3M594.5 455v14M567.5 358v2M229.5 479v3M95.5 391v9M249.5 454v4M369.5 373v3M450.5 439v17M167.5 424v7M514.5 467v2M372.5 383v5M203.5 422v5M356.5 431v11M330.5 387v8M312.5 369v2M621.5 448v9M459.5 387v3M276.5 448v7M531.5 413v3M382.5 433v6M177.5 406v6M519.5 434v7M351.5 479v5M510.5 475v2M301.5 477v9M166.5 431v7M53.5 373v8M64.5 386v10M588.5 391v8M170.5 405v6M539.5 388v3M524.5 409v2M597.5 478v2M252.5 438v7M546.5 431v10M494.5 501v2M542.5 399v4M98.5 421v10M244.5 473v4M94.5 383v8M300.5 486v8M535.5 395v4M378.5 411v4M164.5 446v7M327.5 365v5M473.5 417v5M211.5 420v5M282.5 479v2M295.5 499v2M557.5 418v8M240.5 483v2M400.5 472v2M601.5 461v9M306.5 424v12M561.5 386v9M190.5 482v7M585.5 372v6M591.5 416v11M100.5 441v8M118.5 493v3M260.5 397v4M414.5 492v2M566.5 360v4M411.5 485v2M248.5 458v4M355.5 442v10M556.5 426v7M133.5 474v6M198.5 455v8M513.5 469v2M305.5 436v11M545.5 420v11M463.5 388v2M448.5 473v17M79.5 362v7M97.5 410v11M138.5 447v6M338.5 466v10M518.5 441v7M476.5 436v10M374.5 393v5M217.5 449v2M614.5 413v10M311.5 371v7M257.5 405v6M509.5 477v2M469.5 402v3M52.5 381v8M522.5 416v6M278.5 463v7M251.5 445v5M110.5 470v2M187.5 462v7M470.5 405v2M388.5 451v5M180.5 422v5M354.5 452v9M78.5 369v10M103.5 465v4M304.5 447v12M169.5 411v7M221.5 459v2M267.5 425v4M335.5 435v11M99.5 431v10M243.5 477v2M163.5 453v8M310.5 378v12M29.5 375v3M48.5 387v2M332.5 405v10M593.5 441v14M270.5 435v3M544.5 410v10M610.5 392v9M368.5 370v3M359.5 400v8M56.5 362v3M479.5 466v8M534.5 399v5M271.5 438v2M228.5 475v4M329.5 378v9M66.5 406v10M239.5 485v2M475.5 428v8M213.5 431v6M620.5 440v8M453.5 414v7M90.5 361v2M613.5 403v10M560.5 395v8M7.5 364v3M40.5 358v6M246.5 465v4M63.5 380v6M91.5 363v5M231.5 486v2M604.5 439v6M60.5 374v2M132.5 480v5M447.5 490v9M144.5 448v7M587.5 384v7M102.5 457v8M263.5 409v4M145.5 455v7M186.5 456v6M197.5 463v7M452.5 421v6M559.5 403v8M331.5 395v10M599.5 478v5M457.5 394v4M517.5 448v8M603.5 445v8M631.5 470v2M482.5 488v7M615.5 423v6M541.5 395v4M478.5 456v10M113.5 478v4M623.5 465v5M353.5 461v9M394.5 462v2M303.5 459v10M377.5 407v4M255.5 417v7M398.5 467v2M116.5 488v3M390.5 462v5M504.5 486v2M182.5 432v5M337.5 456v10M619.5 435v5M516.5 456v7M590.5 408v8M294.5 496v3M309.5 390v11M520.5 428v6M117.5 491v2M412.5 487v2M334.5 425v10M352.5 470v9M413.5 489v3M533.5 404v4M464.5 390v2M500.5 492v2M358.5 408v11M96.5 400v10M308.5 401v12M92.5 368v8M592.5 427v14M443.5 488v2M363.5 378v4M564.5 368v4M608.5 410v9M554.5 439v5M131.5 485v3M357.5 419v12M201.5 434v7M13.5 387v4M387.5 448v3M136.5 458v6M266.5 421v4M393.5 464v2M543.5 403v7M55.5 360v5M254.5 424v7M328.5 370v8M380.5 420v6M212.5 425v6M157.5 493v2M77.5 379v10M61.5 376v2M175.5 398v3M612.5 393v10M192.5 488v3M259.5 395v4M150.5 490v7M101.5 449v8M62.5 378v2M162.5 461v8M35.5 359v2M586.5 378v6M76.5 389v10M108.5 466v2M563.5 372v6M161.5 469v9M607.5 419v8M582.5 361v2M320.5 362v2M549.5 450v3M366.5 370v3M156.5 495v2M302.5 469v8M258.5 399v6M214.5 437v6M11.5 379v4M75.5 399v8M178.5 412v5M483.5 495v5M160.5 478v8M361.5 388v6M562.5 378v8M486.5 504v2M552.5 449v5M199.5 448v7M454.5 408v6M466.5 395v2M375.5 398v5M44.5 379v2M74.5 407v4M547.5 441v7M581.5 359v2M322.5 365v2M159.5 486v5M224.5 467v2M148.5 476v7M87.5 354v2M381.5 426v7M600.5 470v8M277.5 455v8M565.5 364v4M41.5 364v5M496.5 498v2M10.5 375v4M137.5 453v5M250.5 450v4M51.5 389v5M124.5 495v2M284.5 484v2M189.5 476v6M28.5 378v2M313.5 367v2M23.5 384v2M609.5 401v9M622.5 457v8M481.5 481v7M465.5 392v3M383.5 439v4M196.5 470v8M216.5 447v2M93.5 376v7M32.5 367v3M43.5 375v4M147.5 469v7M223.5 464v3M72.5 416v4M273.5 441v2M191.5 489v4M262.5 405v4M185.5 449v7M595.5 469v7M376.5 403v4M598.5 480v2M208.5 411v3M19.5 395v2M279.5 470v5M474.5 422v6M204.5 418v4M480.5 474v7M253.5 431v7M42.5 369v6M165.5 438v8M445.5 492v3M523.5 411v5M14.5 391v4M57.5 365v3M275.5 444v4M67.5 416v5M261.5 401v4M107.5 464v2M584.5 366v6M399.5 469v3M551.5 454v3M183.5 437v6M548.5 448v2M193.5 486v2M406.5 485v2M202.5 427v7M444.5 490v2M521.5 422v6M73.5 411v5M616.5 429v2M299.5 494v5M291.5 489v2M158.5 491v2M532.5 408v5M176.5 401v5M555.5 433v6M512.5 471v2M362.5 382v6M468.5 400v2M109.5 468v2M283.5 481v3M583.5 363v3M269.5 432v3M54.5 365v8M230.5 482v4M139.5 444v3M528.5 404v3M81.5 358v2M633.5 462v4M265.5 417v4M456.5 398v4M31.5 370v3M618.5 433v2M195.5 478v5M379.5 415v5M149.5 483v7M71.5 420v3M365.5 373v2M80.5 360v2M467.5 397v3M339.5 476v5M45.5 381v2M218.5 451v2M30.5 373v2M225.5 469v2M392.5 466v2M268.5 429v3M371.5 379v4M527.5 402v2M364.5 375v3M34.5 361v3M22.5 386v3M538.5 389v2M264.5 413v4M395.5 460v2M207.5 409v2M425.5 488v3M168.5 418v6M391.5 467v3M402.5 476v2M635.5 456v2M605.5 433v6M526.5 404v2M458.5 390v4M33.5 364v3M179.5 417v5M472.5 411v6M537.5 391v2M492.5 504v2M242.5 479v2M206.5 411v4M424.5 491v4M370.5 376v3M59.5 371v3M540.5 391v4M397.5 464v3M115.5 485v3M241.5 481v2M205.5 415v3M286.5 488v2M401.5 474v2M550.5 453v2M119.5 496v2M143.5 444v4M415.5 494v2M373.5 388v5M245.5 469v4M12.5 383v4M293.5 494v2M58.5 368v3M184.5 443v6M8.5 367v4M27.5 380v2M498.5 495v2M111.5 472v3M114.5 482v3M315.5 363v2M21.5 389v3M151.5 497v4M596.5 476v2M256.5 411v6M210.5 417v3M617.5 431v2M569.5 355v2M292.5 491v3M314.5 365v2M247.5 462v3M525.5 406v3M384.5 443v2M508.5 479v2M220.5 456v3M47.5 385v2M89.5 358v3M9.5 371v4M529.5 407v4M511.5 473v2M507.5 481v2M209.5 414v3M135.5 464v5M404.5 481v2M171.5 401v4M632.5 466v4M215.5 443v4M386.5 446v2M46.5 383v2M15.5 395v3M506.5 483v2M226.5 471v2M88.5 356v2M502.5 489v2M39.5 355v3M396.5 462v2M285.5 486v2M403.5 478v3M530.5 411v3M485.5 502v2M634.5 458v4M580.5 357v2M287.5 490v2M446.5 495v2M427.5 482v2M219.5 453v3M484.5 500v2M515.5 463v4M49.5 389v2M126.5 492v2M281.5 477v2M367.5 368v2M227.5 473v2M82.5 356v2M280.5 475v2M423.5 495v2M405.5 483v2M487 506.5h5M325 366.5h2M296 500.5h1M495 500.5h1M417 496.5h2M422 496.5h1M462 388.5h1M571 353.5h5M274 443.5h1M127 491.5h1M288 491.5h1M501 491.5h1M86 354.5h1M570 354.5h1M576 354.5h2M36 358.5h1M272 440.5h1M317 362.5h2M438 485.5h1M505 485.5h1M409 486.5h2M439 486.5h2M625 468.5h2M628 468.5h1M319 361.5h1M238 487.5h1M407 487.5h2M441 487.5h2M347 483.5h4M430 483.5h4M436 483.5h1M345 482.5h2M428 482.5h2M434 482.5h2M120 497.5h4M155 497.5h1M419 497.5h3M497 497.5h1M140 444.5h3M106 465.5h1M125 494.5h1M499 494.5h1M38 356.5h1M579 356.5h1M323 367.5h2M3 365.5h3M69 421.5h2M437 484.5h1M630 470.5h1M129 489.5h1M234 489.5h1M236 489.5h1M416 495.5h1M154 498.5h1M340 480.5h2M6 364.5h1M321 364.5h1M342 481.5h3M18 396.5h1M493 503.5h1M128 490.5h1M235 490.5h1M289 490.5h2M37 357.5h1M568 357.5h1M152 499.5h2M297 499.5h2M130 488.5h1M232 488.5h2M237 488.5h1M503 488.5h1M174 399.5h1M172 400.5h2M105 466.5h1M385 445.5h1M16 397.5h2M68 420.5h1M460 387.5h2M83 355.5h3M578 355.5h1M104 467.5h1M627 467.5h1M316 363.5h1M624 469.5h1M629 469.5h1M24 383.5h2M26 382.5h1" fill="none" stroke="#20b2aa" stroke-width="1" shape-rendering="crispEdges"/>
<path d="M272.5 428v3M311.5 416v8M102.5 425v7M229.5 466v3M315.5 384v7M305.5 461v8M567.5 380v6M622.5 433v7M199.5 478v4M138.5 468v4M76.5 408v5M518.5 460v4M383.5 416v4M598.5 446v9M276.5 439v4M455.5 437v7M233.5 477v2M561.5 420v6M204.5 448v6M459.5 408v5M364.5 400v7M343.5 461v6M153.5 482v4M589.5 376v5M31.5 377v3M595.5 420v9M566.5 386v8M449.5 480v4M188.5 445v6M359.5 444v8M105.5 445v6M571.5 361v4M549.5 423v5M333.5 390v6M79.5 394v5M157.5 494v2M256.5 436v5M480.5 441v7M351.5 481v2M471.5 396v3M95.5 371v6M133.5 486v4M164.5 474v6M379.5 397v4M316.5 379v5M191.5 464v6M474.5 407v4M380.5 401v5M184.5 426v4M621.5 427v6M222.5 450v4M592.5 394v9M169.5 441v6M557.5 439v4M71.5 404v3M527.5 418v3M403.5 469v2M314.5 391v8M300.5 490v4M260.5 418v4M152.5 478v4M289.5 483v2M336.5 408v8M605.5 458v5M327.5 365v3M546.5 409v4M337.5 416v8M330.5 376v4M98.5 394v9M252.5 455v5M560.5 426v5M363.5 407v8M375.5 383v2M627.5 455v3M565.5 394v7M458.5 413v8M388.5 436v5M368.5 381v2M64.5 375v5M218.5 435v4M201.5 466v6M67.5 389v4M221.5 446v4M569.5 370v5M346.5 475v4M358.5 452v6M190.5 458v6M48.5 374v4M362.5 415v10M339.5 432v7M614.5 414v4M268.5 414v4M141.5 457v4M132.5 490v3M206.5 436v6M247.5 475v3M461.5 400v4M552.5 437v3M271.5 425v3M556.5 443v4M228.5 463v3M97.5 386v8M526.5 421v5M168.5 447v7M476.5 416v6M82.5 378v5M382.5 411v5M594.5 411v9M313.5 399v9M187.5 439v6M588.5 370v6M210.5 420v4M251.5 460v4M318.5 368v5M155.5 490v3M304.5 469v8M559.5 431v4M136.5 476v4M516.5 468v4M308.5 439v7M100.5 411v7M548.5 418v5M312.5 408v8M332.5 384v6M94.5 367v4M564.5 401v8M367.5 383v4M44.5 366v2M486.5 482v7M444.5 486v2M281.5 457v4M608.5 442v6M284.5 467v4M36.5 367v2M255.5 441v5M205.5 442v6M452.5 460v8M77.5 404v4M391.5 452v3M183.5 421v5M140.5 461v4M341.5 446v8M246.5 478v2M361.5 425v9M520.5 450v5M544.5 400v4M162.5 485v4M32.5 375v2M103.5 432v7M274.5 433v3M428.5 490v2M167.5 454v7M599.5 455v6M360.5 434v10M258.5 427v5M277.5 443v4M478.5 428v6M81.5 383v6M623.5 440v5M479.5 434v7M626.5 452v3M338.5 424v8M170.5 434v7M189.5 451v7M135.5 480v3M106.5 451v6M590.5 381v6M109.5 463v3M175.5 408v3M591.5 387v7M6.5 370v2M262.5 410v4M366.5 387v7M35.5 369v2M475.5 411v5M335.5 402v6M607.5 448v6M451.5 468v7M254.5 446v5M482.5 455v7M306.5 453v8M593.5 403v8M612.5 422v4M355.5 470v5M610.5 430v6M186.5 435v4M547.5 413v5M524.5 430v5M99.5 403v8M171.5 428v6M331.5 380v4M80.5 389v5M134.5 483v3M165.5 467v7M446.5 489v2M43.5 364v2M143.5 451v2M377.5 389v4M249.5 468v3M629.5 461v4M13.5 376v3M49.5 378v3M68.5 393v4M619.5 416v4M340.5 439v7M5.5 372v3M50.5 381v4M150.5 468v5M269.5 418v3M174.5 411v6M543.5 397v3M606.5 454v4M230.5 469v3M253.5 451v4M212.5 419v2M215.5 425v2M484.5 469v7M236.5 483v2M386.5 428v4M570.5 365v5M453.5 452v8M142.5 453v4M27.5 387v2M550.5 428v5M39.5 361v2M84.5 369v4M248.5 471v4M585.5 362v2M173.5 417v5M118.5 482v3M104.5 439v6M407.5 477v2M137.5 472v4M122.5 492v2M159.5 496v2M601.5 463v3M470.5 394v2M180.5 409v4M522.5 440v5M303.5 477v6M14.5 379v3M389.5 441v6M628.5 458v3M38.5 363v2M78.5 399v5M631.5 468v2M163.5 480v5M34.5 371v2M483.5 462v7M309.5 431v8M235.5 481v2M604.5 463v4M457.5 421v8M596.5 429v9M568.5 375v5M597.5 438v8M489.5 496v3M620.5 420v7M512.5 479v2M224.5 456v2M117.5 479v3M405.5 473v2M73.5 409v3M342.5 454v7M193.5 474v4M123.5 494v2M600.5 461v2M93.5 364v3M280.5 454v3M250.5 464v4M317.5 373v6M86.5 361v4M558.5 435v4M147.5 455v3M529.5 414v2M19.5 391v2M456.5 429v8M511.5 481v2M139.5 465v3M161.5 489v3M154.5 486v4M4.5 375v2M96.5 377v9M481.5 448v7M182.5 417v4M365.5 394v6M397.5 463v2M290.5 485v2M328.5 368v4M454.5 444v8M30.5 380v2M65.5 380v4M347.5 479v2M101.5 418v7M334.5 396v6M111.5 468v2M553.5 440v4M490.5 499v2M574.5 355v2M194.5 478v4M477.5 422v6M319.5 365v3M372.5 377v2M202.5 460v6M378.5 393v4M45.5 368v2M37.5 365v2M282.5 461v3M285.5 471v4M83.5 373v5M52.5 384v2M292.5 488v2M172.5 422v6M63.5 372v3M573.5 357v2M214.5 423v2M345.5 471v4M609.5 436v6M113.5 471v2M521.5 445v5M381.5 406v5M151.5 473v5M259.5 422v5M587.5 366v4M508.5 487v2M299.5 494v2M485.5 476v6M603.5 467v3M179.5 406v3M472.5 399v4M66.5 384v5M220.5 442v4M307.5 446v7M270.5 421v4M554.5 444v3M273.5 431v2M356.5 464v6M611.5 426v4M384.5 420v4M216.5 427v4M507.5 489v2M209.5 424v4M166.5 461v6M344.5 467v4M487.5 489v5M286.5 475v4M310.5 424v7M562.5 415v5M245.5 480v2M75.5 413v3M586.5 364v2M72.5 407v2M408.5 479v2M203.5 454v6M160.5 492v4M602.5 466v2M625.5 448v4M219.5 439v3M26.5 389v2M181.5 413v4M261.5 414v4M354.5 475v2M207.5 432v4M473.5 403v4M70.5 400v4M613.5 418v4M392.5 455v2M33.5 373v2M525.5 426v4M545.5 404v5M329.5 372v4M406.5 475v2M217.5 431v4M517.5 464v4M278.5 447v4M533.5 408v2M624.5 445v3M353.5 477v2M551.5 433v4M148.5 458v5M110.5 466v2M120.5 488v2M238.5 486v2M16.5 385v2M390.5 447v5M47.5 372v2M302.5 483v4M200.5 472v6M528.5 416v2M69.5 397v3M223.5 454v2M460.5 404v4M394.5 458v2M131.5 493v2M450.5 475v5M294.5 491v2M506.5 491v2M523.5 435v5M387.5 432v4M515.5 472v3M115.5 474v2M430.5 487v2M491.5 501v2M119.5 485v3M185.5 430v5M376.5 385v4M11.5 371v2M279.5 451v3M257.5 432v4M463.5 394v2M46.5 370v2M514.5 475v2M149.5 463v5M15.5 382v3M396.5 461v2M510.5 483v2M275.5 436v3M448.5 484v5M7.5 368v2M462.5 396v4M357.5 458v6M288.5 481v2M537.5 403v2M74.5 412v2M374.5 381v2M29.5 382v3M267.5 412v2M563.5 409v6M555.5 447v2M370.5 377v2M468.5 391v2M85.5 365v4M192.5 470v4M519.5 455v5M92.5 360v4M572.5 359v2M412.5 485v2M369.5 379v2M108.5 461v2M301.5 487v3M244.5 482v2M195.5 482v2M513.5 477v2M18.5 389v2M232.5 475v2M243.5 484v2M410.5 482v2M414.5 488v2M385.5 424v4M87.5 358v3M501.5 498v2M530.5 412v2M107.5 457v4M581.5 355v2M3.5 377v2M584.5 360v2M121.5 490v2M447.5 489v3M352.5 479v2M263.5 408v2M630.5 465v3M17.5 387v2M227.5 461v2M51.5 385v2M398.5 465v2M234.5 479v2M231.5 472v3M615.5 412v2M633.5 466v2M54.5 381v2M116.5 476v3M404.5 471v2M287.5 479v2M373.5 379v2M208.5 428v4M12.5 373v3M283.5 464v3M226.5 459v2M509.5 485v2M211.5 418v2M91.5 358v2M504.5 494v2M28.5 385v2M24.5 392v2M213.5 421v2M488.5 494v2M583.5 358v2M20 392.5h1M465 392.5h1M535 406.5h1M349 481.5h2M409 481.5h1M492 503.5h2M497 503.5h1M429 489.5h1M124 495.5h1M130 495.5h1M422 495.5h1M424 495.5h1M59 376.5h1M371 376.5h1M40 362.5h2M60 375.5h1M616 413.5h1M197 482.5h2M435 482.5h3M617 414.5h1M575 354.5h3M580 354.5h1M242 486.5h1M431 486.5h1M196 483.5h1M434 483.5h1M438 483.5h3M266 411.5h1M531 411.5h1M348 480.5h1M536 405.5h1M239 488.5h1M445 488.5h1M539 401.5h1M125 496.5h2M128 496.5h2M158 496.5h1M423 496.5h1M503 496.5h1M498 502.5h1M21 393.5h2M464 393.5h1M469 393.5h1M411 484.5h1M433 484.5h1M441 484.5h2M240 487.5h2M291 487.5h1M413 487.5h1M540 400.5h1M297 494.5h2M421 494.5h1M425 494.5h1M293 490.5h1M415 490.5h2M8 369.5h2M393 457.5h1M127 497.5h1M502 497.5h1M53 383.5h1M635 464.5h1M25 391.5h1M466 391.5h1M156 493.5h1M295 493.5h2M420 493.5h1M426 493.5h1M505 493.5h1M177 407.5h2M534 407.5h1M321 364.5h2M325 364.5h2M42 363.5h1M323 363.5h2M57 378.5h1M634 465.5h1M541 399.5h1M237 485.5h1M432 485.5h1M443 485.5h1M265 410.5h1M532 410.5h1M494 504.5h1M496 504.5h1M495 505.5h1M320 365.5h1M112 470.5h1M56 379.5h1M225 458.5h1M395 460.5h1M58 377.5h1M62 373.5h1M582 357.5h1M401 468.5h2M632 468.5h1M88 358.5h3M500 500.5h1M419 492.5h1M427 492.5h1M61 374.5h1M146 454.5h1M578 353.5h2M538 402.5h1M114 473.5h1M542 398.5h1M10 370.5h1M417 491.5h2M499 501.5h1M55 380.5h1M399 467.5h2M467 390.5h1M618 415.5h1M144 452.5h1M145 453.5h1M264 409.5h1M176 408.5h1M23 394.5h1" fill="none" stroke="#ff0000" stroke-width="1" shape-rendering="crispEdges"/>
<text x="6.3" y="14" textLength="57" lengthAdjust="spacingAndGlyphs">USDCAD,H4</text>
<text x="68.6" y="14" textLength="27.5" lengthAdjust="spacingAndGlyphs">1.0111</text>
<text x="100" y="14" textLength="27.5" lengthAdjust="spacingAndGlyphs">1.0120</text>
<text x="130.9" y="14" textLength="27.5" lengthAdjust="spacingAndGlyphs">1.0108</text>
<text x="161.7" y="14" textLength="27.5" lengthAdjust="spacingAndGlyphs">1.0113</text>
<text x="7" y="357" textLength="113" lengthAdjust="spacingAndGlyphs">Sto(5,3,3) 33.2558 27.8440</text>
<text x="6" y="506" textLength="255" lengthAdjust="spacingAndGlyphs">ICMB Platform, © 2001-2011 MetaQuotes Software Corp.</text>
<g stroke="#000" stroke-width="1" shape-rendering="crispEdges" fill="none">
<line x1="2" y1="2.5" x2="804" y2="2.5"/>
<line x1="2.5" y1="2" x2="2.5" y2="512"/>
<line x1="803.5" y1="2" x2="803.5" y2="512"/>
<line x1="2" y1="341.5" x2="804" y2="341.5"/>
<line x1="2" y1="343.5" x2="804" y2="343.5"/>
<line x1="2" y1="511.5" x2="804" y2="511.5"/>
<line x1="804" y1="14.5" x2="806" y2="14.5"/>
<line x1="804" y1="46.5" x2="806" y2="46.5"/>
<line x1="804" y1="79.5" x2="806" y2="79.5"/>
<line x1="804" y1="111.5" x2="806" y2="111.5"/>
<line x1="804" y1="144.5" x2="806" y2="144.5"/>
<line x1="804" y1="176.5" x2="806" y2="176.5"/>
<line x1="804" y1="209.5" x2="806" y2="209.5"/>
<line x1="804" y1="241.5" x2="806" y2="241.5"/>
<line x1="804" y1="274.5" x2="806" y2="274.5"/>
<line x1="804" y1="306.5" x2="806" y2="306.5"/>
<line x1="804" y1="338.5" x2="806" y2="338.5"/>
<line x1="804" y1="510.5" x2="805" y2="510.5"/>
<line x1="804" y1="345.5" x2="805" y2="345.5"/>
<line x1="3.5" y1="512" x2="3.5" y2="515"/>
<line x1="67.5" y1="512" x2="67.5" y2="515"/>
<line x1="131.5" y1="512" x2="131.5" y2="515"/>
<line x1="195.5" y1="512" x2="195.5" y2="515"/>
<line x1="259.5" y1="512" x2="259.5" y2="515"/>
<line x1="323.5" y1="512" x2="323.5" y2="515"/>
<line x1="387.5" y1="512" x2="387.5" y2="515"/>
<line x1="451.5" y1="512" x2="451.5" y2="515"/>
<line x1="515.5" y1="512" x2="515.5" y2="515"/>
<line x1="579.5" y1="512" x2="579.5" y2="515"/>
</g>
<text x="809.3" y="17" textLength="27.5" lengthAdjust="spacingAndGlyphs">1.0675</text>
<text x="809.3" y="49" textLength="27.5" lengthAdjust="spacingAndGlyphs">1.0595</text>
<text x="809.3" y="82" textLength="27.5" lengthAdjust="spacingAndGlyphs">1.0515</text>
<text x="809.3" y="114" textLength="27.5" lengthAdjust="spacingAndGlyphs">1.0435</text>
<text x="809.3" y="147" textLength="27.5" lengthAdjust="spacingAndGlyphs">1.0355</text>
<text x="809.3" y="179" textLength="27.5" lengthAdjust="spacingAndGlyphs">1.0275</text>
<text x="809.3" y="212" textLength="27.5" lengthAdjust="spacingAndGlyphs">1.0195</text>
<text x="809.3" y="244" textLength="27.5" lengthAdjust="spacingAndGlyphs">1.0115</text>
<text x="809.3" y="277" textLength="27.5" lengthAdjust="spacingAndGlyphs">1.0035</text>
<text x="809.3" y="309" textLength="27.5" lengthAdjust="spacingAndGlyphs">0.9955</text>
<text x="809.3" y="341" textLength="27.5" lengthAdjust="spacingAndGlyphs">0.9875</text>
<text x="807.3" y="354" textLength="14.6" lengthAdjust="spacingAndGlyphs">100</text>
<text x="806.8" y="508" textLength="5" lengthAdjust="spacingAndGlyphs">0</text>
<text x="1.6" y="524" textLength="53" lengthAdjust="spacingAndGlyphs">28 Sep 2011</text>
<text x="65.6" y="524" textLength="49.5" lengthAdjust="spacingAndGlyphs">3 Oct 12:00</text>
<text x="129.6" y="524" textLength="49.5" lengthAdjust="spacingAndGlyphs">6 Oct 04:00</text>
<text x="193.6" y="524" textLength="54" lengthAdjust="spacingAndGlyphs">10 Oct 20:00</text>
<text x="257.6" y="524" textLength="54" lengthAdjust="spacingAndGlyphs">13 Oct 12:00</text>
<text x="321.6" y="524" textLength="54" lengthAdjust="spacingAndGlyphs">18 Oct 04:00</text>
<text x="385.6" y="524" textLength="54" lengthAdjust="spacingAndGlyphs">20 Oct 20:00</text>
<text x="449.6" y="524" textLength="54" lengthAdjust="spacingAndGlyphs">25 Oct 12:00</text>
<text x="513.6" y="524" textLength="54" lengthAdjust="spacingAndGlyphs">28 Oct 04:00</text>
<text x="577.6" y="524" textLength="52" lengthAdjust="spacingAndGlyphs">1 Nov 20:00</text>
<rect x="806" y="59" width="34" height="11" fill="#ff0000"/>
<text class="w" x="809.3" y="68" textLength="27.5" lengthAdjust="spacingAndGlyphs">1.0550</text>
<rect x="806" y="86" width="34" height="11" fill="#ff0000"/>
<text class="w" x="809.3" y="95" textLength="27.5" lengthAdjust="spacingAndGlyphs">1.0481</text>
<rect x="806" y="117" width="34" height="11" fill="#ff0000"/>
<text class="w" x="809.3" y="126" textLength="27.5" lengthAdjust="spacingAndGlyphs">1.0406</text>
<rect x="806" y="160" width="34" height="11" fill="#ff0000"/>
<text class="w" x="809.3" y="169" textLength="27.5" lengthAdjust="spacingAndGlyphs">1.0300</text>
<rect x="806" y="200" width="34" height="11" fill="#ff0000"/>
<text class="w" x="809.3" y="209" textLength="27.5" lengthAdjust="spacingAndGlyphs">1.0200</text>
<rect x="806" y="226" width="34" height="11" fill="#ff0000"/>
<text class="w" x="809.3" y="235" textLength="27.5" lengthAdjust="spacingAndGlyphs">1.0138</text>
<rect x="806" y="278" width="34" height="11" fill="#ff0000"/>
<text class="w" x="809.3" y="287" textLength="27.5" lengthAdjust="spacingAndGlyphs">1.0008</text>
<rect x="806" y="314" width="34" height="11" fill="#ff0000"/>
<text class="w" x="809.3" y="323" textLength="27.5" lengthAdjust="spacingAndGlyphs">0.9922</text>
<rect x="806" y="237" width="34" height="10" fill="#000"/>
<text class="w" x="809.3" y="245" textLength="27.5" lengthAdjust="spacingAndGlyphs">1.0113</text>
<text class="wm" x="524" y="279.5" textLength="61" lengthAdjust="spacingAndGlyphs">Портал</text>
<text class="wm" x="592.5" y="279.5" textLength="28" lengthAdjust="spacingAndGlyphs">для</text>
<text class="wm" x="627.5" y="279.5" textLength="85" lengthAdjust="spacingAndGlyphs">трейдеров</text>
<text class="wm" x="718.3" y="279.5" textLength="9.5" lengthAdjust="spacingAndGlyphs">–</text>
<text class="wm" x="733" y="279.5" textLength="99" lengthAdjust="spacingAndGlyphs">ForTrader.ru</text>
</svg></body></html>
